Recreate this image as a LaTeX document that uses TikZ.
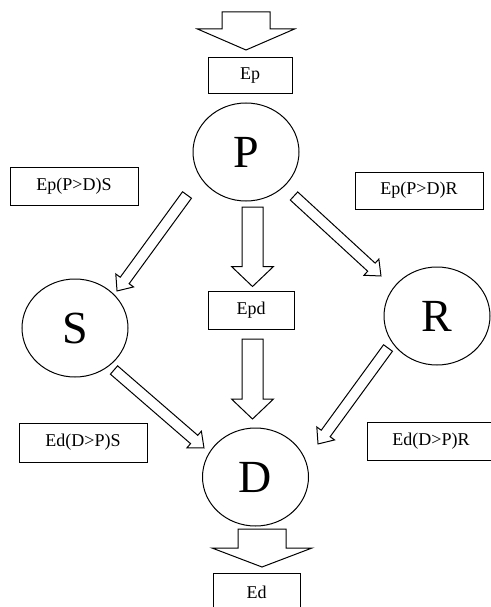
\documentclass[tikz,border=0pt]{standalone}
\usepackage{fontspec}
\setmainfont{Liberation Serif}
\usetikzlibrary{calc,shapes.geometric}

% hollow block arrow: tail, tip, half shaft, half head, head length
\newcommand{\blockarrow}[5]{%
	\draw[line width=1pt] let \p1=($(#2)-(#1)$), \n1={atan2(\y1,\x1)}, \n2={veclen(\x1,\y1)} in
		[shift={(#1)}, rotate=\n1]
		(0,#3) -- ({\n2-#5},#3) -- ({\n2-#5},#4) -- (\n2,0) -- ({\n2-#5},-#4) -- ({\n2-#5},-#3) -- (0,-#3) -- cycle;}

\begin{document}
\begin{tikzpicture}[x=1pt, y=-1pt,
		state/.style={draw, ellipse, line width=1pt, inner sep=0pt, minimum width=106pt, minimum height=98pt, font=\fontsize{46}{46}\selectfont},
		flow/.style={draw, line width=1pt, inner sep=0pt, minimum width=128pt, minimum height=38pt, font=\fontsize{18}{20}\selectfont}]
	\useasboundingbox (0,0) rectangle (490,607);

	\node[state] (P) at (246,152){P};
	\node[state] (S) at (75,328){S};
	\node[state] (R) at (437,316){R};
	\node[state] (D) at (255.5,477){D};

	\node[flow, minimum width=84pt, minimum height=36pt] (ep) at (250,76){Ep};
	\node[flow] (eps) at (74,186){Ep(P>D)S};
	\node[flow, minimum height=37pt] (epr) at (419,190.5){Ep(P>D)R};
	\node[flow, minimum width=86pt] (epd) at (251,310){Epd};
	\node[flow, minimum height=39pt] (eds) at (83,442.5){Ed(D>P)S};
	\node[flow] (edr) at (431,441){Ed(D>P)R};
	\node[flow, minimum width=87pt] (ed) at (256.5,592){Ed};

	\coordinate (in1) at (246,12);
	\coordinate (in2) at (246,50);
	\coordinate (ps1) at (187,195);
	\coordinate (ps2) at (117,291);
	\coordinate (pr1) at (294,196);
	\coordinate (pr2) at (381,276);
	\coordinate (pd1) at (252.5,207);
	\coordinate (pd2) at (252.5,286.5);
	\coordinate (dd1) at (252.5,339);
	\coordinate (dd2) at (252.5,419);
	\coordinate (sd1) at (114,370);
	\coordinate (sd2) at (204,448);
	\coordinate (rd1) at (388,348);
	\coordinate (rd2) at (318,444);
	\coordinate (out1) at (262,529);
	\coordinate (out2) at (262,567);

	\blockarrow{in1}{in2}{24}{48.5}{21}
	\blockarrow{ps1}{ps2}{5.5}{11}{13}
	\blockarrow{pr1}{pr2}{5.5}{11}{13}
	\blockarrow{pd1}{pd2}{10.5}{21}{20}
	\blockarrow{dd1}{dd2}{10.5}{21}{20}
	\blockarrow{sd1}{sd2}{5.5}{11}{13}
	\blockarrow{rd1}{rd2}{5.5}{11}{13}
	\blockarrow{out1}{out2}{24}{50}{19}
\end{tikzpicture}
\end{document}
